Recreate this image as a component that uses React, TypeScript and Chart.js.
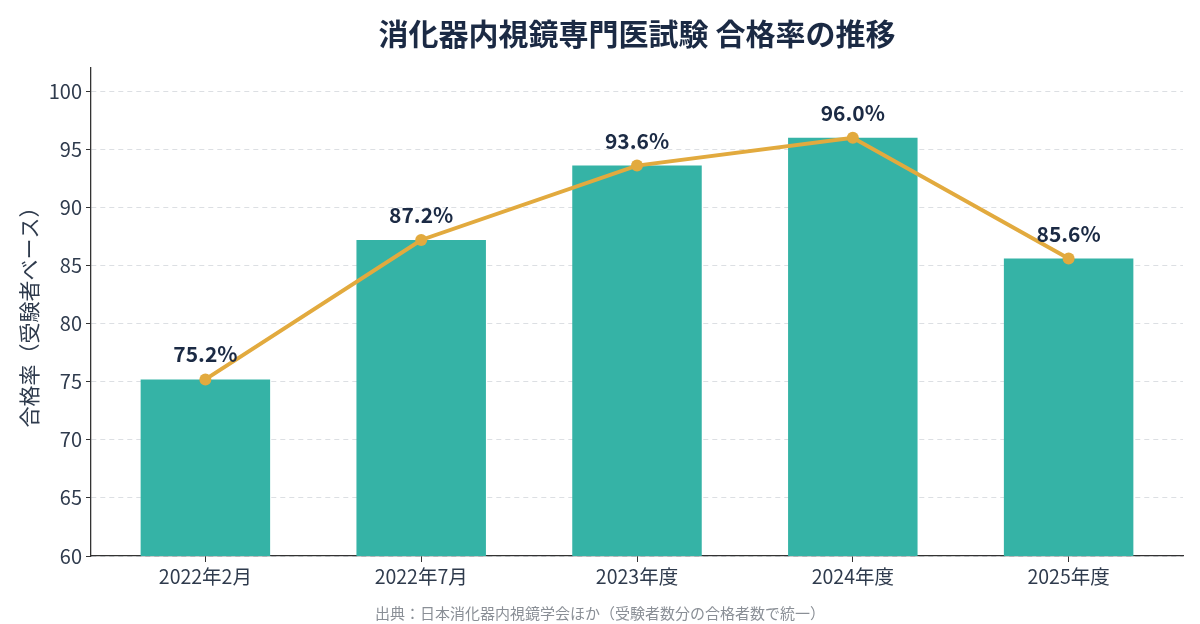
import React, { useEffect, useRef } from "react";
import { Chart, registerables } from "chart.js";

Chart.register(...registerables);

const categories = ["2022年2月", "2022年7月", "2023年度", "2024年度", "2025年度"];
const passRates = [75.2, 87.2, 93.6, 96.0, 85.6];
const yTickValues = [60, 65, 70, 75, 80, 85, 90, 95, 100];
const titleText = "消化器内視鏡専門医試験 合格率の推移";
const yAxisTitle = "合格率（受験者ベース）";
const sourceText = "出典：日本消化器内視鏡学会ほか（受験者数分の合格者数で統一）";

const FONT = '"Noto Sans CJK JP", "Noto Sans", sans-serif';
const NAVY = "#1b2a44";
const TICK_COLOR = "#2f3b4d";
const BAR_COLOR = "#35b3a6";
const LINE_COLOR = "#e2aa3e";

const overlayPlugin = {
  id: "overlayText",
  afterDatasetsDraw(chart: any) {
    const ctx = chart.ctx;
    const area = chart.chartArea;
    ctx.save();
    // title
    ctx.fillStyle = NAVY;
    ctx.font = `bold 30px ${FONT}`;
    ctx.textAlign = "center";
    ctx.textBaseline = "middle";
    ctx.fillText(titleText, (area.left + area.right) / 2, 34);
    // data labels
    const meta = chart.getDatasetMeta(1);
    ctx.font = `bold 21px ${FONT}`;
    meta.data.forEach((pt: any, i: number) => {
      ctx.fillText(passRates[i].toFixed(1) + "%", pt.x, pt.y - 25);
    });
    // source
    ctx.fillStyle = "#8a8f96";
    ctx.font = `15px ${FONT}`;
    ctx.fillText(sourceText, chart.width / 2, 613);
    ctx.restore();
  },
};

export default function App() {
  const ref = useRef<HTMLCanvasElement | null>(null);
  useEffect(() => {
    if (!ref.current) return;
    const chart = new Chart(ref.current, {
      type: "bar",
      data: {
        datasets: [
          {
            type: "bar",
            data: passRates.map((v, i) => ({ x: i, y: v })),
            backgroundColor: BAR_COLOR,
            borderWidth: 0,
            categoryPercentage: 1,
            barPercentage: 0.6,
            order: 2,
          } as any,
          {
            type: "line",
            data: passRates.map((v, i) => ({ x: i, y: v })),
            borderColor: LINE_COLOR,
            backgroundColor: LINE_COLOR,
            borderWidth: 4,
            pointRadius: 6,
            pointBackgroundColor: LINE_COLOR,
            pointBorderWidth: 0,
            tension: 0,
            order: 1,
          } as any,
        ],
      },
      options: {
        responsive: false,
        animation: false,
        layout: { padding: { top: 68, right: 17, left: 0, bottom: 0 } },
        plugins: {
          legend: { display: false },
          tooltip: { enabled: false },
          title: { display: false },
        },
        scales: {
          x: {
            type: "linear",
            min: -0.53,
            max: 4.53,
            offset: false,
            afterBuildTicks: (s: any) => {
              s.ticks = categories.map((_, i) => ({ value: i }));
            },
            afterFit: (s: any) => {
              s.height = 68;
            },
            ticks: {
              callback: (v: any) => categories[Math.round(v)] ?? "",
              color: TICK_COLOR,
              font: { family: FONT, size: 19.5 },
              padding: 3,
              maxRotation: 0,
              autoSkip: false,
            },
            grid: {
              display: true,
              drawOnChartArea: false,
              drawTicks: true,
              tickLength: 6,
              tickColor: "#333333",
              offset: false,
            },
            border: { display: true, color: "#333333", width: 1.3 },
          } as any,
          y: {
            min: 60,
            max: 102,
            afterBuildTicks: (s: any) => {
              s.ticks = yTickValues.map((v) => ({ value: v }));
            },
            afterFit: (s: any) => {
              s.width = 91;
            },
            ticks: {
              color: TICK_COLOR,
              font: { family: FONT, size: 20 },
              padding: 4,
            },
            grid: {
              color: "#dcdfe3",
              lineWidth: 1,
              drawTicks: true,
              tickLength: 5,
              tickColor: "#333333",
              tickBorderDash: [],
            },
            border: { display: true, color: "#333333", width: 1.3, dash: [5, 4] },
            title: {
              display: true,
              text: yAxisTitle,
              color: TICK_COLOR,
              font: { family: FONT, size: 21 },
              padding: { top: 16, bottom: 0 },
            },
          } as any,
        },
      },
      plugins: [overlayPlugin],
    });
    return () => chart.destroy();
  }, []);
  return (
    <div style={{ position: "fixed", left: 0, top: 0, width: 1200, height: 624, background: "#fff" }}>
      <canvas ref={ref} width={1200} height={624} />
    </div>
  );
}
